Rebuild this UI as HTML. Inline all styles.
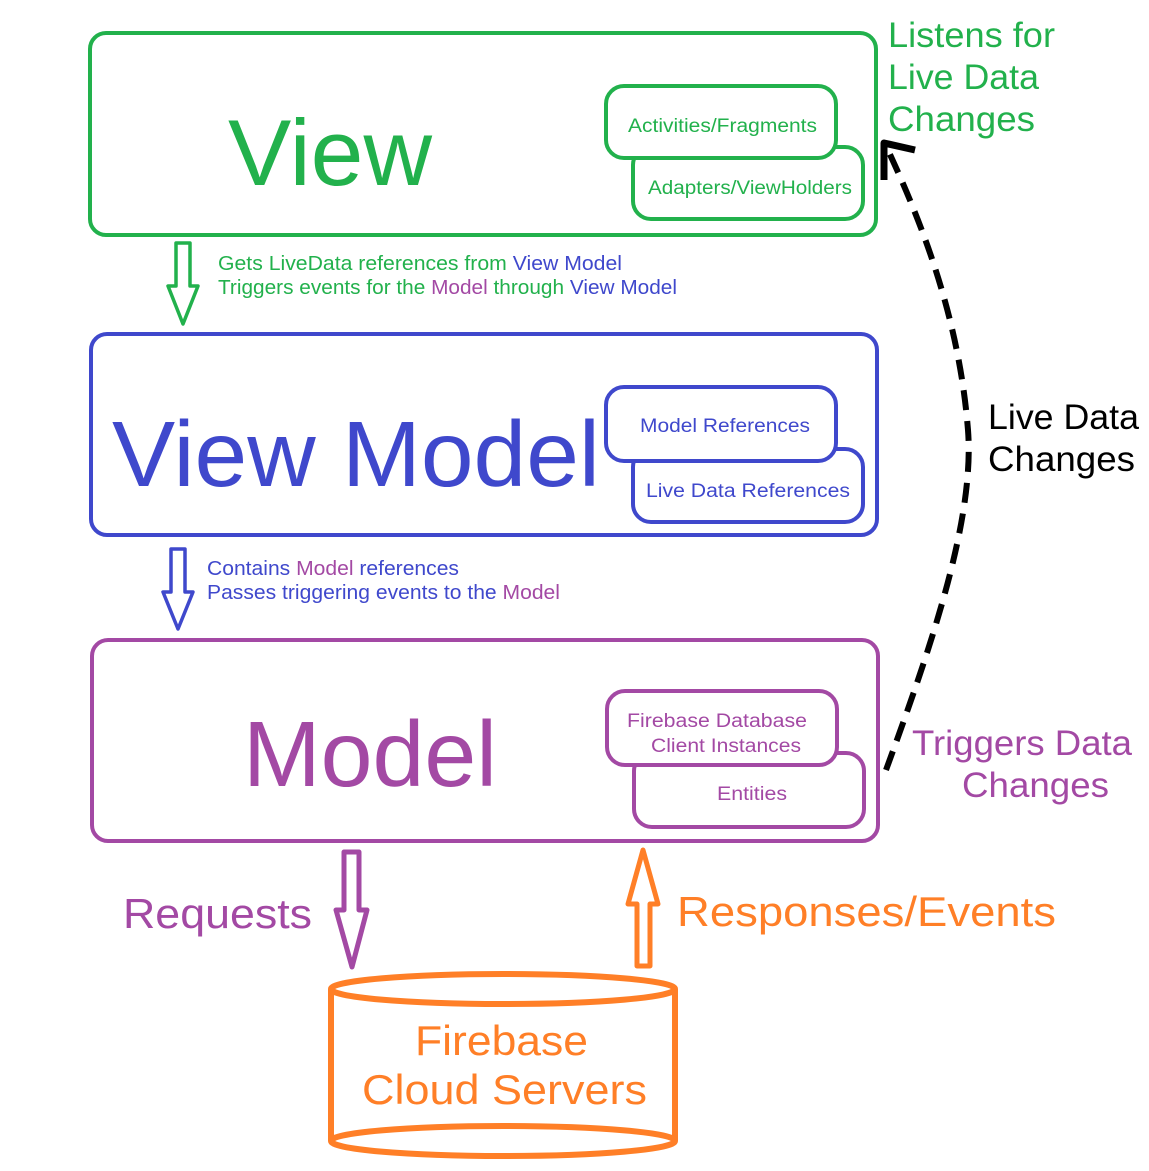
<!DOCTYPE html>
<html><head><meta charset="utf-8"><style>body{margin:0;background:#fff}svg{display:block}text{font-family:"Liberation Sans",sans-serif}</style></head><body>
<svg width="1149" height="1171" viewBox="0 0 1149 1171" xmlns="http://www.w3.org/2000/svg">
<g fill="none" stroke-width="4">
<rect x="90" y="33" width="786" height="202" rx="16" stroke="#22b14c"/>
<rect x="91" y="334" width="786" height="201" rx="16" stroke="#3f48cc"/>
<rect x="92" y="640" width="786" height="201" rx="16" stroke="#a349a4"/>
</g>
<g stroke-width="4" fill="#fff">
<rect x="633" y="147" width="230" height="72" rx="18" stroke="#22b14c"/>
<rect x="606" y="86" width="230" height="72" rx="18" stroke="#22b14c"/>
<rect x="633" y="449" width="230" height="73" rx="18" stroke="#3f48cc"/>
<rect x="606" y="387" width="230" height="74" rx="18" stroke="#3f48cc"/>
<rect x="634" y="753" width="230" height="74" rx="18" stroke="#a349a4"/>
<rect x="607" y="691" width="230" height="74" rx="18" stroke="#a349a4"/>
</g>
<g font-size="19" lengthAdjust="spacingAndGlyphs">
<text x="628" y="132" fill="#22b14c" textLength="189" lengthAdjust="spacingAndGlyphs">Activities/Fragments</text>
<text x="648" y="194" fill="#22b14c" textLength="204" lengthAdjust="spacingAndGlyphs">Adapters/ViewHolders</text>
<text x="640" y="432" fill="#3f48cc" textLength="170" lengthAdjust="spacingAndGlyphs">Model References</text>
<text x="646" y="497" fill="#3f48cc" textLength="204" lengthAdjust="spacingAndGlyphs">Live Data References</text>
<text x="627" y="727" fill="#a349a4" textLength="180" lengthAdjust="spacingAndGlyphs">Firebase Database</text>
<text x="651" y="752" fill="#a349a4" textLength="150" lengthAdjust="spacingAndGlyphs">Client Instances</text>
<text x="717" y="800" fill="#a349a4" textLength="70" lengthAdjust="spacingAndGlyphs">Entities</text>
</g>
<text x="228" y="185" font-size="94" fill="#22b14c" textLength="204" lengthAdjust="spacingAndGlyphs">View</text>
<text x="112" y="486" font-size="93" fill="#3f48cc" textLength="488" lengthAdjust="spacingAndGlyphs">View Model</text>
<text x="243" y="786" font-size="93" fill="#a349a4" textLength="254" lengthAdjust="spacingAndGlyphs">Model</text>
<g fill="#fff" stroke-width="3.5" stroke-linejoin="round">
<path d="M176 243 H190 V286 H198 L183 324 L168 286 H176 Z" stroke="#22b14c"/>
<path d="M171 549 H185 V592 H193 L178 629 L163 592 H171 Z" stroke="#3f48cc"/>
<path d="M344 852 H359 V910 H367 L352 967 L336 910 H344 Z" stroke="#a349a4" stroke-width="5"/>
<path d="M637 966 H650 V904 H658 L643 850 L628 904 H637 Z" stroke="#ff7f27" stroke-width="5"/>
</g>
<g font-size="20">
<text x="218" y="270" fill="#22b14c" textLength="404" lengthAdjust="spacingAndGlyphs">Gets LiveData references from <tspan fill="#3f48cc">View Model</tspan></text>
<text x="218" y="294" fill="#22b14c" textLength="459" lengthAdjust="spacingAndGlyphs">Triggers events for the <tspan fill="#a349a4">Model</tspan> through <tspan fill="#3f48cc">View Model</tspan></text>
<text x="207" y="575" fill="#3f48cc" textLength="252" lengthAdjust="spacingAndGlyphs">Contains <tspan fill="#a349a4">Model</tspan> references</text>
<text x="207" y="599" fill="#3f48cc" textLength="353" lengthAdjust="spacingAndGlyphs">Passes triggering events to the <tspan fill="#a349a4">Model</tspan></text>
</g>
<g font-size="35">
<text x="888" y="47" fill="#22b14c" textLength="167" lengthAdjust="spacingAndGlyphs">Listens for</text>
<text x="888" y="89" fill="#22b14c" textLength="151" lengthAdjust="spacingAndGlyphs">Live Data</text>
<text x="888" y="131" fill="#22b14c" textLength="147" lengthAdjust="spacingAndGlyphs">Changes</text>
<text x="988" y="429" fill="#000" textLength="151" lengthAdjust="spacingAndGlyphs">Live Data</text>
<text x="988" y="471" fill="#000" textLength="147" lengthAdjust="spacingAndGlyphs">Changes</text>
<text x="912" y="755" fill="#a349a4" textLength="220" lengthAdjust="spacingAndGlyphs">Triggers Data</text>
<text x="962" y="797" fill="#a349a4" textLength="147" lengthAdjust="spacingAndGlyphs">Changes</text>
</g>
<text x="123" y="928" font-size="42" fill="#a349a4" textLength="189" lengthAdjust="spacingAndGlyphs">Requests</text>
<text x="677" y="926" font-size="42" fill="#ff7f27" textLength="379" lengthAdjust="spacingAndGlyphs">Responses/Events</text>
<path d="M886 770 C930 650 975 520 968 430 C960 330 930 240 887 148" fill="none" stroke="#000" stroke-width="6" stroke-dasharray="20 11"/>
<path d="M884 180 L884 143 L915 150" fill="none" stroke="#000" stroke-width="7" stroke-linejoin="round"/>
<g fill="none" stroke="#ff7f27" stroke-width="6">
<path d="M331 989 V1141 M675 989 V1141"/>
<ellipse cx="503" cy="989" rx="172" ry="15"/>
<ellipse cx="503" cy="1141" rx="172" ry="15"/>
</g>
<g font-size="42" fill="#ff7f27">
<text x="415" y="1055" textLength="173" lengthAdjust="spacingAndGlyphs">Firebase</text>
<text x="362" y="1104" textLength="285" lengthAdjust="spacingAndGlyphs">Cloud Servers</text>
</g>
</svg>
</body></html>
